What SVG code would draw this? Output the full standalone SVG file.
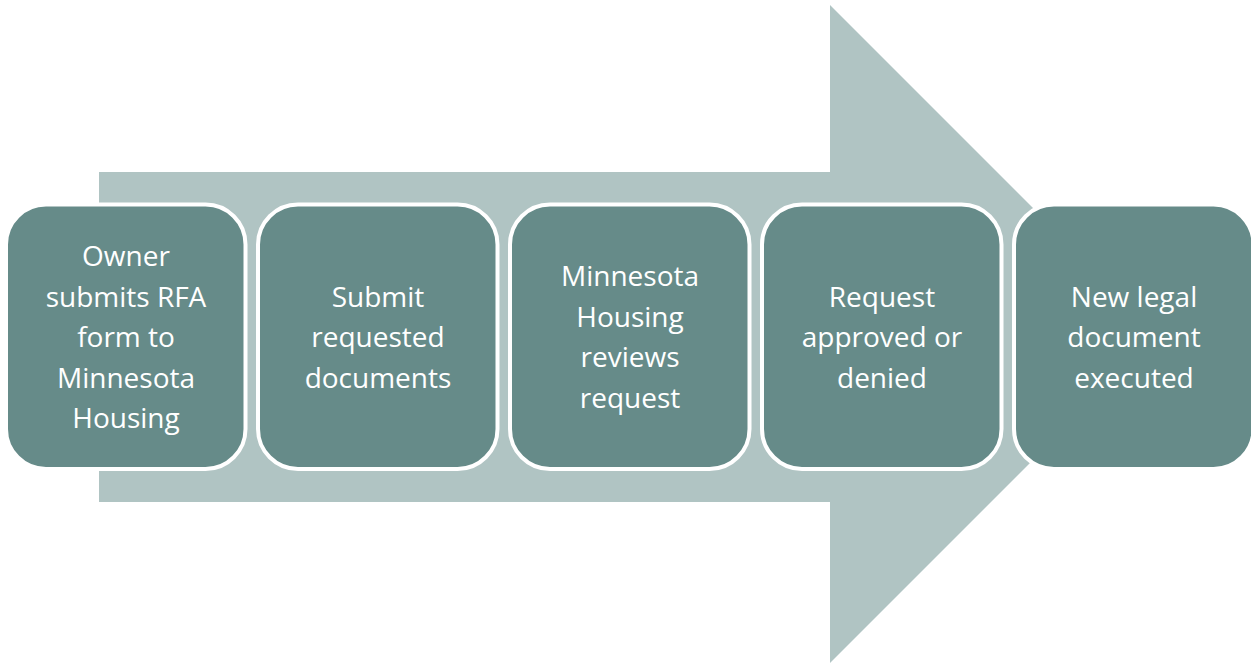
<svg xmlns="http://www.w3.org/2000/svg" width="1251" height="665" viewBox="0 0 1251 665">
<style>
.box{fill:#668b89;stroke:#ffffff;stroke-width:4}
.lbl{font-family:"Open Sans","Noto Sans",sans-serif;font-size:28px;fill:#ffffff;text-anchor:middle}
</style>
<rect width="1251" height="665" fill="#ffffff"/>
<g id="connectors">
<polygon id="big-arrow" points="99,172 830,172 830,5 1159,334 830,663 830,502 99,502" fill="#b0c4c3"/>
</g>
<g id="node1">
<rect class="box" x="6" y="204.5" width="239.5" height="264.5" rx="40"/>
<text class="lbl" x="126" y="266">Owner</text>
<text class="lbl" x="126" y="306.5">submits RFA</text>
<text class="lbl" x="126" y="347">form to</text>
<text class="lbl" x="126" y="387.5">Minnesota</text>
<text class="lbl" x="126" y="428">Housing</text>
</g>
<g id="node2">
<rect class="box" x="258" y="204.5" width="239.5" height="264.5" rx="40"/>
<text class="lbl" x="378" y="306.5">Submit</text>
<text class="lbl" x="378" y="347">requested</text>
<text class="lbl" x="378" y="387.5">documents</text>
</g>
<g id="node3">
<rect class="box" x="510" y="204.5" width="239.5" height="264.5" rx="40"/>
<text class="lbl" x="630" y="286">Minnesota</text>
<text class="lbl" x="630" y="326.5">Housing</text>
<text class="lbl" x="630" y="367">reviews</text>
<text class="lbl" x="630" y="407.5">request</text>
</g>
<g id="node4">
<rect class="box" x="762" y="204.5" width="239.5" height="264.5" rx="40"/>
<text class="lbl" x="882" y="306.5">Request</text>
<text class="lbl" x="882" y="347">approved or</text>
<text class="lbl" x="882" y="387.5">denied</text>
</g>
<g id="node5">
<rect class="box" x="1014" y="204.5" width="239.5" height="264.5" rx="40"/>
<text class="lbl" x="1134" y="306.5">New legal</text>
<text class="lbl" x="1134" y="347">document</text>
<text class="lbl" x="1134" y="387.5">executed</text>
</g>
</svg>
